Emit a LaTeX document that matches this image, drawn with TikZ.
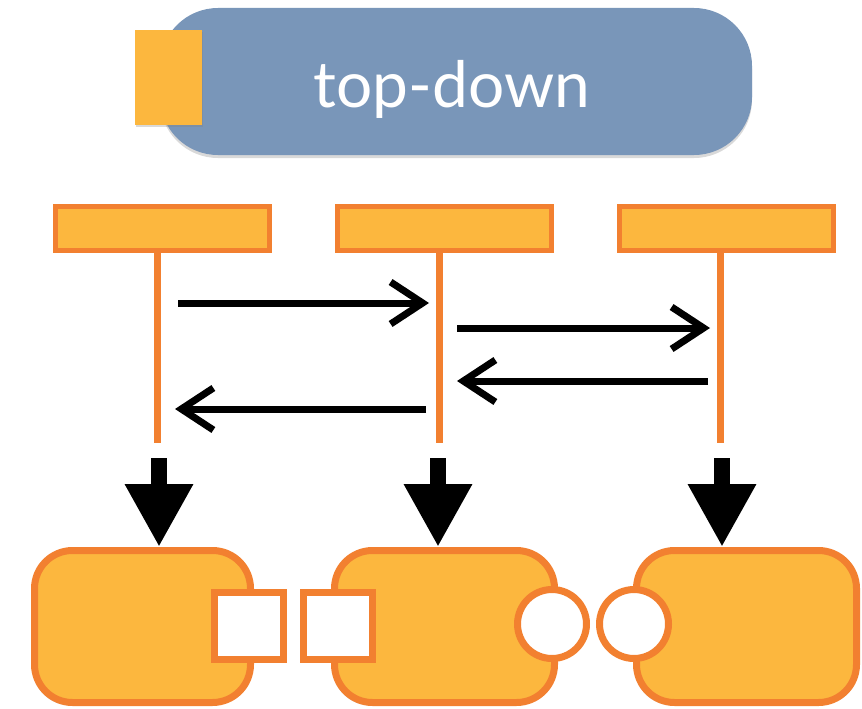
\documentclass[tikz,border=0pt]{standalone}
\usepackage{fontspec}
\setmainfont{Lato}
\usetikzlibrary{arrows.meta,shadows,calc}
\definecolor{fillor}{RGB}{252,183,62}
\definecolor{lineor}{RGB}{242,128,48}
\definecolor{bannerblue}{RGB}{121,150,185}
\begin{document}
\begin{tikzpicture}[x=1pt,y=-1pt,
  bar/.style={draw=lineor, fill=fillor, line width=5pt, minimum width=214pt, minimum height=44pt, inner sep=0pt},
  comp/.style={draw=lineor, fill=fillor, line width=7pt, minimum height=152pt, inner sep=0pt, rounded corners=38pt,
    drop shadow={opacity=0.25, shadow xshift=-2pt, shadow yshift=-3pt}},
  sqport/.style={draw=lineor, fill=white, line width=7pt, minimum width=69pt, minimum height=67pt, inner sep=0pt},
  ciport/.style={circle, draw=lineor, fill=white, line width=7pt, minimum size=69pt, inner sep=0pt},
  life/.style={draw=lineor, line width=7pt},
  msg/.style={draw=black, line width=7pt, -{Straight Barb[length=32pt, width=42pt]}},
  down/.style={draw=black, line width=16pt, -{Triangle[length=63pt, width=64pt]}},
]
\useasboundingbox (0,0) rectangle (862,709);
% banner
\node[fill=bannerblue, rounded corners=58pt, minimum width=592pt, minimum height=147pt, inner sep=0pt,
  drop shadow={opacity=0.3, shadow xshift=0pt, shadow yshift=-3pt}] (banner) at (456,81.5) {};
\node[fill=fillor, minimum width=67pt, minimum height=95pt, inner sep=0pt,
  drop shadow={opacity=0.3, shadow xshift=1pt, shadow yshift=-2pt}] (tag) at (168.5,77.5) {};
\node[text=white, font=\fontsize{64}{64}\selectfont, anchor=base, inner sep=0pt] (title) at (452,107) {top-down};
% top bars
\node[bar] (b1) at (162,228) {};
\node[bar] (b2) at (444,228) {};
\node[bar] (b3) at (726,228) {};
% lifelines
\coordinate (l1) at (157,443);
\coordinate (l2) at (439,443);
\coordinate (l3) at (720,443);
\draw[life] (b1.south -| l1) -- (l1);
\draw[life] (b2.south -| l2) -- (l2);
\draw[life] (b3.south -| l3) -- (l3);
% messages
\coordinate (m1s) at (178,303); \coordinate (m1e) at (429,303);
\coordinate (m2s) at (457,328); \coordinate (m2e) at (710,328);
\coordinate (m3s) at (708,381); \coordinate (m3e) at (457,381);
\coordinate (m4s) at (426,409); \coordinate (m4e) at (175,409);
\draw[msg] (m1s) -- (m1e);
\draw[msg] (m2s) -- (m2e);
\draw[msg] (m3s) -- (m3e);
\draw[msg] (m4s) -- (m4e);
% components
\node[comp, minimum width=216pt] (c1) at (142.5,626.5) {};
\node[comp, minimum width=220pt] (c2) at (444.5,626.5) {};
\node[comp, minimum width=220pt] (c3) at (746.5,626.5) {};
% ports
\node[sqport] (p1) at (248.5,626) {};
\node[sqport] (p2) at (338,626) {};
\node[ciport] (p3) at (552,624) {};
\node[ciport] (p4) at (634,624) {};
% down arrows
\coordinate (d1) at (159,458);
\coordinate (d2) at (438,458);
\coordinate (d3) at (722,458);
\draw[down] (d1) -- (d1 |- c1.north);
\draw[down] (d2) -- (d2 |- c2.north);
\draw[down] (d3) -- (d3 |- c3.north);
\end{tikzpicture}
\end{document}
